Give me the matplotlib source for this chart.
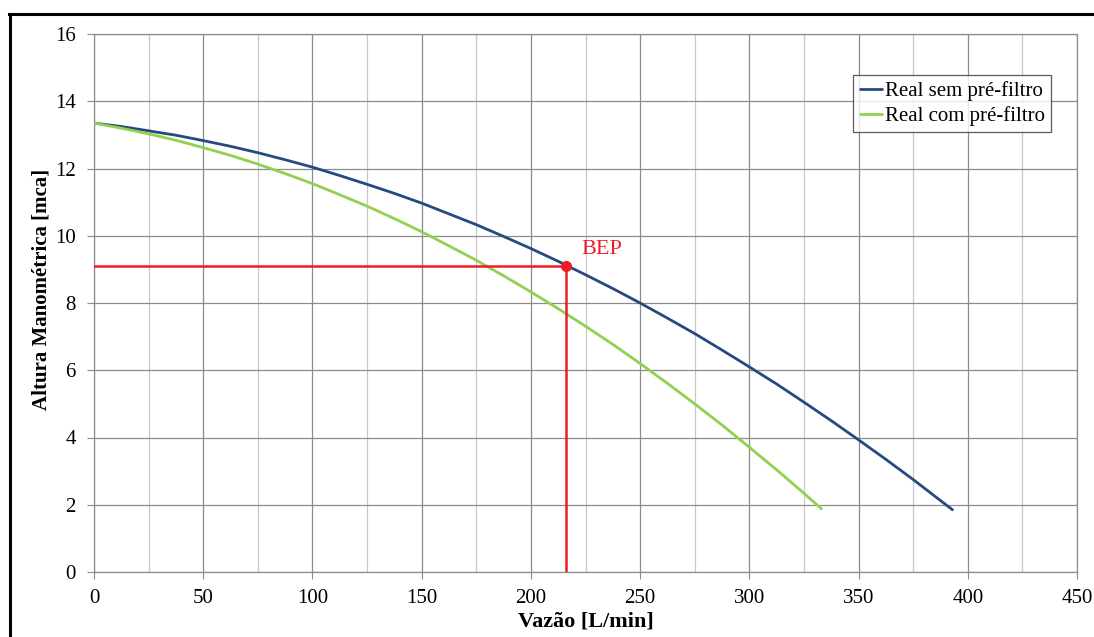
import matplotlib
matplotlib.use("Agg")
import matplotlib.pyplot as plt
from matplotlib.lines import Line2D
from matplotlib.ticker import MultipleLocator

# Pump head curves: flow [L/min] vs head [mca]
vazao_sem = [0, 12.5, 25, 37.5, 50, 62.5, 75, 87.5, 100, 112.5, 125, 137.5, 150, 162.5,
             175, 187.5, 200, 212.5, 225, 237.5, 250, 262.5, 275, 287.5, 300, 312.5,
             325, 337.5, 350, 362.5, 375, 384, 393]
altura_sem = [13.35, 13.25, 13.12, 12.99, 12.83, 12.66, 12.47, 12.26, 12.04, 11.79, 11.53,
              11.26, 10.97, 10.65, 10.33, 9.98, 9.62, 9.24, 8.84, 8.43, 8.00, 7.55, 7.09,
              6.60, 6.10, 5.59, 5.05, 4.50, 3.93, 3.35, 2.75, 2.30, 1.85]

vazao_com = [0, 12.5, 25, 37.5, 50, 62.5, 75, 87.5, 100, 112.5, 125, 137.5, 150, 162.5,
             175, 187.5, 200, 212.5, 225, 237.5, 250, 262.5, 275, 287.5, 300, 312.5,
             325, 333]
altura_com = [13.35, 13.20, 13.03, 12.84, 12.62, 12.39, 12.13, 11.85, 11.55, 11.22, 10.88,
              10.51, 10.12, 9.70, 9.27, 8.81, 8.33, 7.83, 7.31, 6.77, 6.20, 5.61, 5.00,
              4.37, 3.71, 3.04, 2.34, 1.88]

bep_vazao = 216
bep_altura = 9.1

serie_labels = ["Real sem pré-filtro", "Real com pré-filtro"]

plt.rcParams["font.family"] = ["Liberation Serif", "DejaVu Serif"]

fig = plt.figure(figsize=(10.94, 6.37), dpi=100)
ax = fig.add_axes([94 / 1094, 1 - 572 / 637, (1077 - 94) / 1094, (572 - 34) / 637])

ax.plot(vazao_sem, altura_sem, color="#264a7f", lw=2.0, label=serie_labels[0], zorder=3,
        solid_capstyle="round", solid_joinstyle="round")
ax.plot(vazao_com, altura_com, color="#92d050", lw=2.0, label=serie_labels[1], zorder=3,
        solid_capstyle="round", solid_joinstyle="round")

# Best efficiency point with guide lines
red = "#ee1c25"
ax.plot([0, bep_vazao], [bep_altura, bep_altura], color=red, lw=1.8, zorder=4)
ax.plot([bep_vazao, bep_vazao], [0, bep_altura], color=red, lw=1.8, zorder=4)
ax.plot([bep_vazao], [bep_altura], "o", color=red, ms=7, zorder=5)
ax.text(bep_vazao + 7, bep_altura + 0.2, "BEP", color=red, fontsize=16, va="bottom", ha="left")

ax.set_xlim(0, 450)
ax.set_ylim(0, 16)
ax.xaxis.set_major_locator(MultipleLocator(50))
ax.xaxis.set_minor_locator(MultipleLocator(25))
ax.yaxis.set_major_locator(MultipleLocator(2))

ax.grid(which="major", color="#8c8c8c", lw=0.9)
ax.grid(which="minor", axis="x", color="#c8c8c8", lw=0.9)
ax.set_axisbelow(True)

for s in ax.spines.values():
    s.set_color("#8c8c8c")
    s.set_linewidth(0.9)

ax.tick_params(which="major", direction="out", length=5, color="#8c8c8c", labelsize=15)
ax.tick_params(axis="y", pad=8)
ax.tick_params(axis="x", pad=7)
ax.tick_params(which="minor", length=0)

ax.set_xlabel("Vazão [L/min]", fontsize=16, fontweight="bold")
ax.set_ylabel("Altura Manométrica [mca]", fontsize=15, fontweight="bold")
ax.xaxis.set_label_coords(0.5, -0.074)
ax.yaxis.set_label_coords(-0.043, 0.526)

leg = ax.legend(loc="upper right", bbox_to_anchor=(0.9735, 0.924), fontsize=15,
                frameon=True, fancybox=False, handlelength=1.05, handletextpad=0.15,
                borderpad=0.3, labelspacing=0.25, borderaxespad=0)
leg.get_frame().set_edgecolor("#333333")
leg.get_frame().set_linewidth(0.9)

# Outer frame around the figure
fig.add_artist(Line2D([9.5 / 1094, 9.5 / 1094], [0, 1 - 14 / 637], color="black", lw=2.2,
                      transform=fig.transFigure))
fig.add_artist(Line2D([8.5 / 1094, 1], [1 - 14 / 637, 1 - 14 / 637], color="black", lw=2.2,
                      transform=fig.transFigure))

fig.savefig("out.png", dpi=100)
